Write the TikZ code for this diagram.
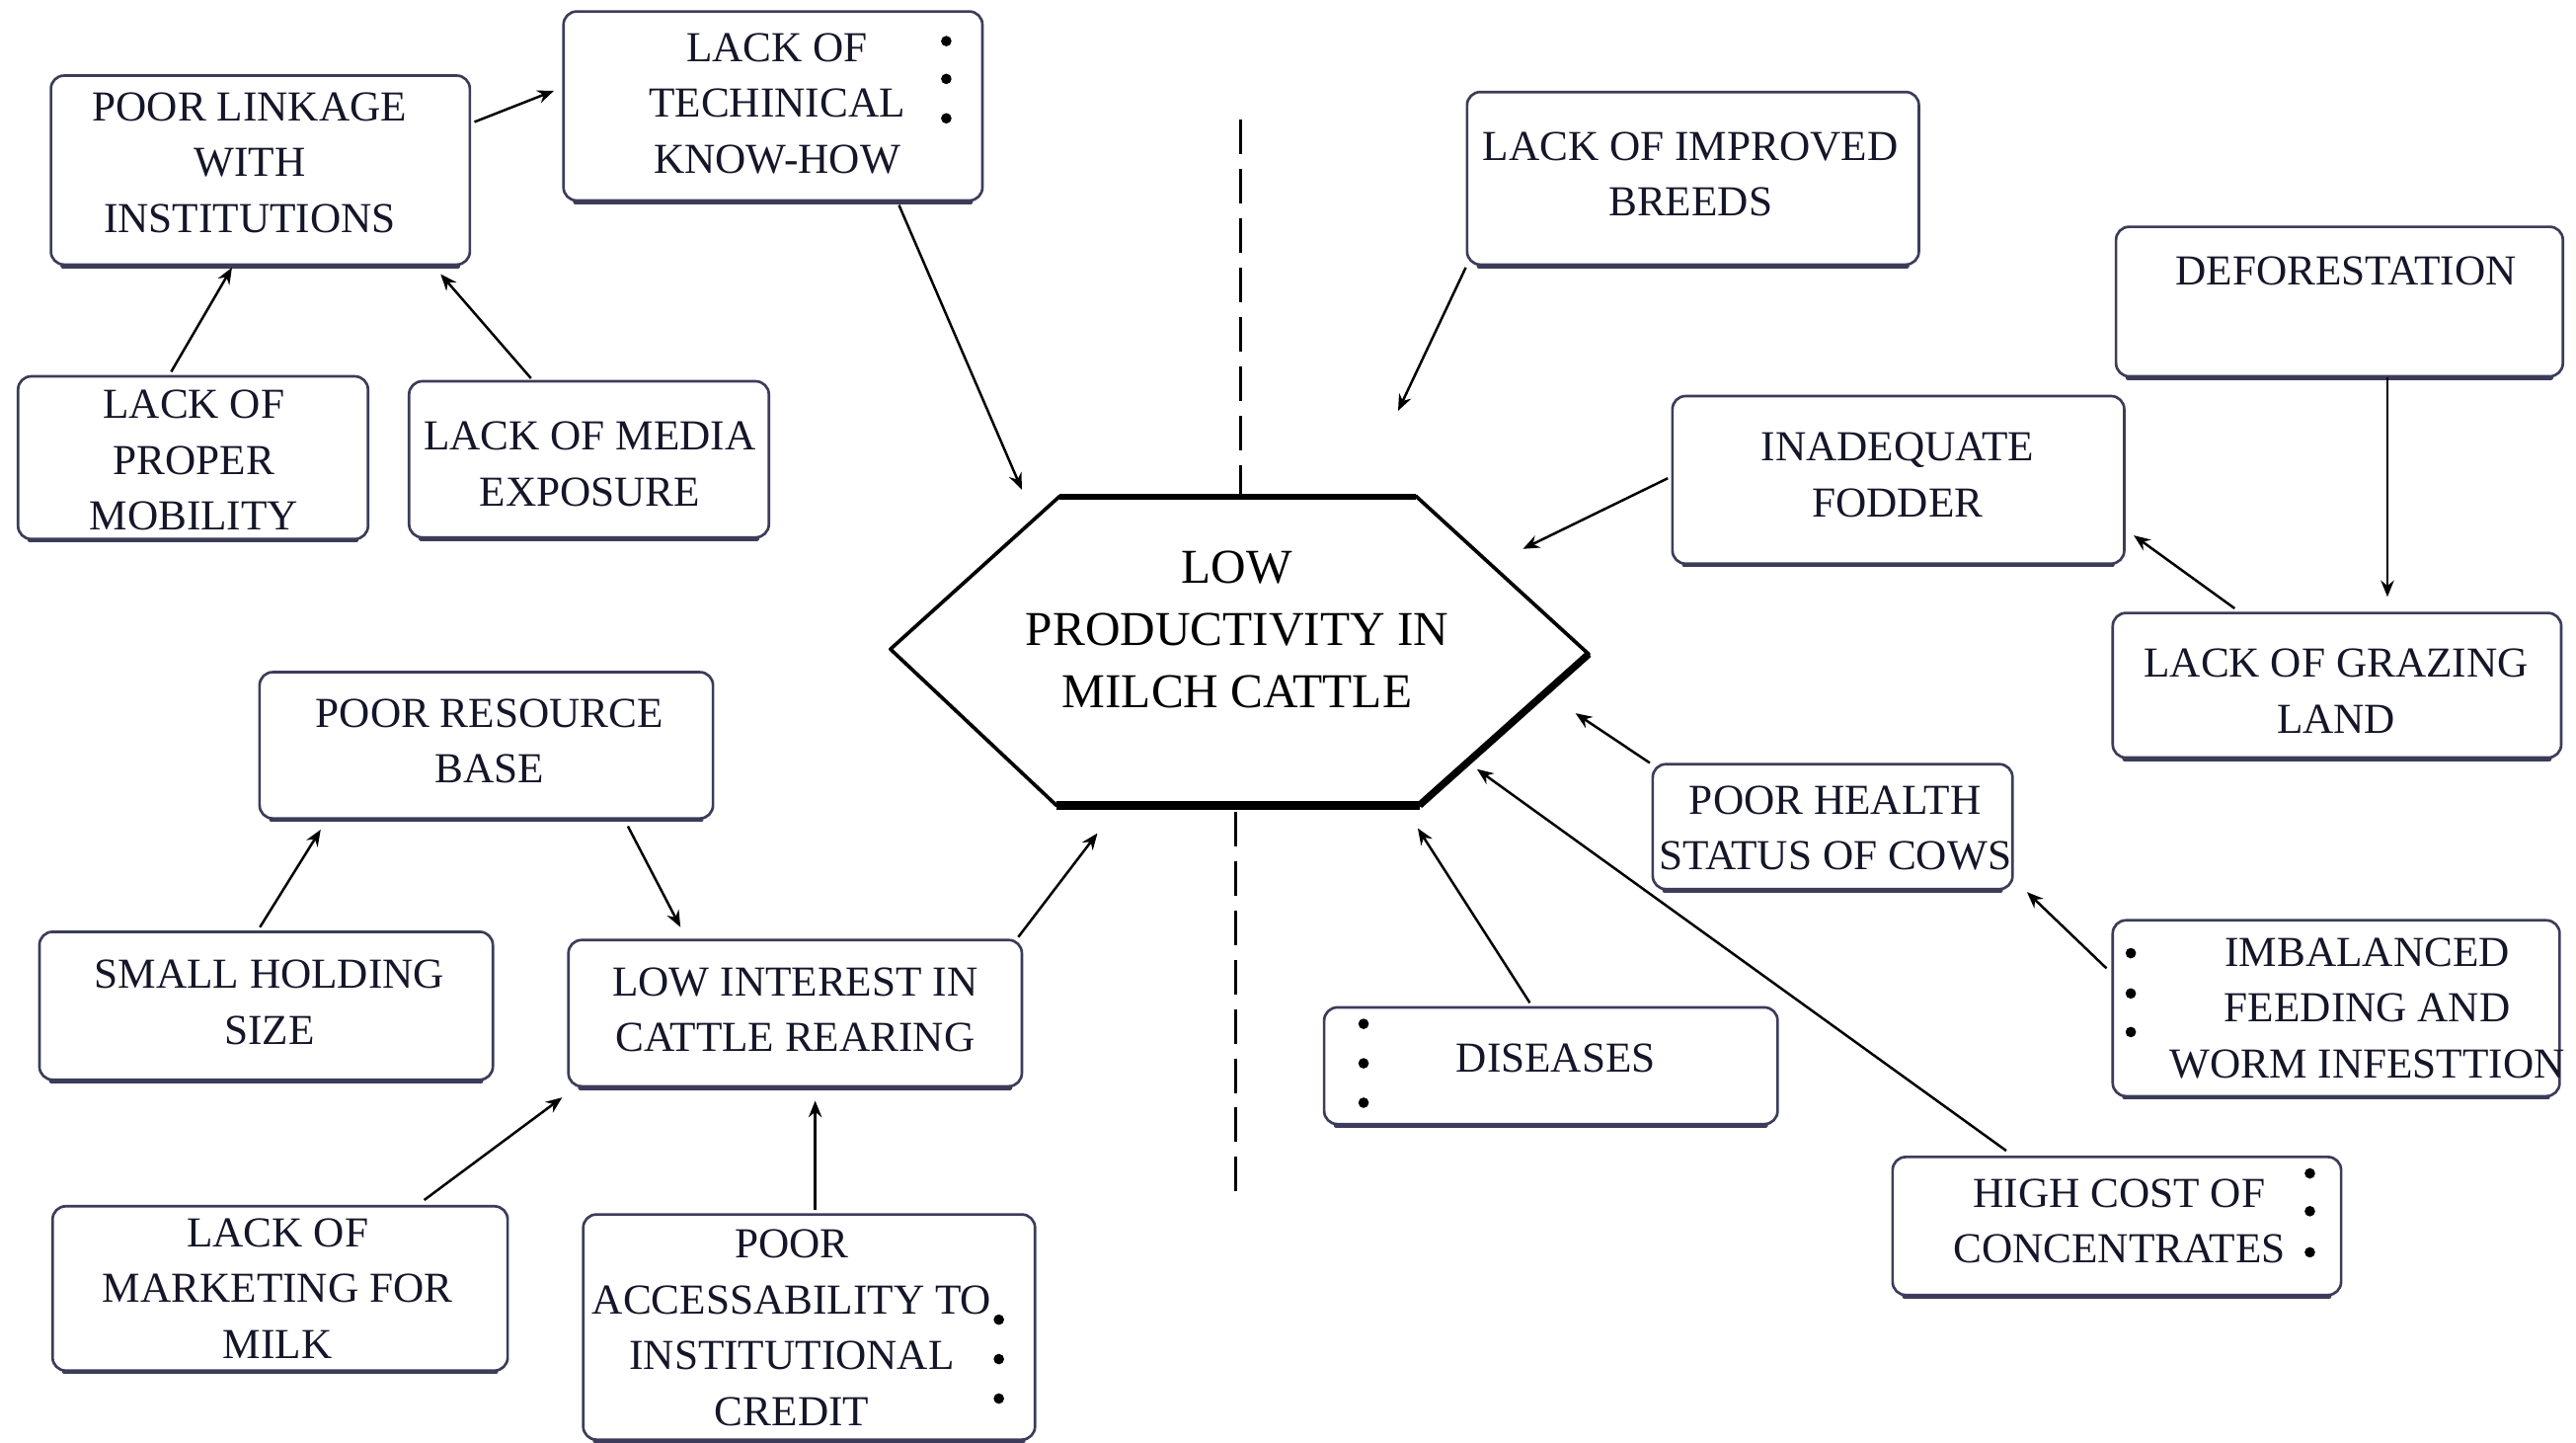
\documentclass[tikz,border=0pt]{standalone}
\usepackage{fontspec}
\setmainfont{Liberation Serif}
\usetikzlibrary{arrows.meta,calc,fit}
\definecolor{ink}{RGB}{22,22,42}
\definecolor{bxline}{RGB}{60,60,90}
\newcommand\mybox[5]{%
  \node[bx, fit={(#2,#3) (#4,#5)}] (#1) {};
  \draw[bxbot] ([xshift=4pt]#1.south west) -- ([xshift=-4pt]#1.south east);
}
\begin{document}
\begin{tikzpicture}[x=0.5pt,y=-0.5pt,
  bx/.style={draw=bxline, line width=0.8pt, rounded corners=4pt, inner sep=0pt, fill=white},
  bxbot/.style={draw=bxline, line width=1.4pt, line cap=round},
  tx/.style={font=\fontsize{13}{17}\selectfont, text=ink, align=center, inner sep=0pt},
  hx/.style={font=\fontsize{14.8}{19}\selectfont, text=black, align=center, inner sep=0pt},
  arr/.style={draw=black, line width=0.75pt, -{Stealth[length=5pt,width=4pt]}},
  dsh/.style={draw=black, line width=0.9pt, dash pattern=on 10.5pt off 4.5pt},
  bul/.style={fill=black}]
\useasboundingbox (0,0) rectangle (1568,878);
\fill[white] (0,0) rectangle (1568,878);

% boxes
\mybox{link}{31}{46}{286}{161}
\node[tx] (link-t) at (152,99) {POOR LINKAGE\\WITH\\INSTITUTIONS};
\mybox{tech}{343}{7}{598}{122}
\node[tx] (tech-t) at (473,63) {LACK OF\\TECHINICAL\\KNOW-HOW};
\mybox{mob}{11}{229}{224}{328}
\node[tx] (mob-t) at (118,280) {LACK OF\\PROPER\\MOBILITY};
\mybox{media}{249}{232}{468}{327}
\node[tx] (media-t) at (359,282.5) {LACK OF MEDIA\\EXPOSURE};
\mybox{breed}{893}{56}{1168}{161}
\node[tx] (breed-t) at (1029,106) {LACK OF IMPROVED\\BREEDS};
\mybox{defor}{1288}{138}{1560}{229}
\node[tx] (defor-t) at (1428,165) {DEFORESTATION};
\mybox{graz}{1286}{373}{1559}{461}
\node[tx] (graz-t) at (1422,420.5) {LACK OF GRAZING\\LAND};
\mybox{fod}{1018}{241}{1293}{343}
\node[tx] (fod-t) at (1155,289) {INADEQUATE\\FODDER};
\mybox{health}{1006}{465}{1225}{541}
\node[tx] (health-t) at (1117,504) {POOR HEALTH\\STATUS OF COWS};
\mybox{feed}{1286}{560}{1558}{667}
\node[tx] (feed-t) at (1441,613.5) {IMBALANCED\\FEEDING AND\\WORM INFESTTION};
\mybox{dis}{806}{613}{1082}{684}
\node[tx] (dis-t) at (947,644) {DISEASES};
\mybox{conc}{1152}{704}{1425}{788}
\node[tx] (conc-t) at (1290,743) {HIGH COST OF\\CONCENTRATES};
\mybox{res}{158}{409}{434}{498}
\node[tx] (res-t) at (298,451) {POOR RESOURCE\\BASE};
\mybox{small}{24}{567}{300}{657}
\node[tx] (small-t) at (164,610) {SMALL HOLDING\\SIZE};
\mybox{low}{346}{572}{622}{661}
\node[tx] (low-t) at (484,614.5) {LOW INTEREST IN\\CATTLE REARING};
\mybox{mkt}{32}{734}{309}{834}
\node[tx] (mkt-t) at (169,784) {LACK OF\\MARKETING FOR\\MILK};
\mybox{cred}{355}{739}{630}{876}
\node[tx] (cred-t) at (482,808) {POOR\\ACCESSABILITY TO\\INSTITUTIONAL\\CREDIT};

% bullets
\foreach \y in {25,48,72} \fill[bul] (576,\y) circle (1.6pt);
\foreach \y in {580,604.5,628} \fill[bul] (1297,\y) circle (1.6pt);
\foreach \y in {623,647,671} \fill[bul] (830,\y) circle (1.6pt);
\foreach \y in {714,737,762} \fill[bul] (1406,\y) circle (1.6pt);
\foreach \y in {803,827,851} \fill[bul] (608,\y) circle (1.6pt);

% hexagon
\coordinate (h1) at (645,302);
\coordinate (h2) at (862,302);
\coordinate (h3) at (967,398);
\coordinate (h4) at (864,490);
\coordinate (h5) at (643,490);
\coordinate (h6) at (542,395);
\draw[line width=1.1pt, line join=round] (h1)--(h2)--(h3)--(h4)--(h5)--(h6)--cycle;
\draw[line width=1.8pt] (h1)--(h2);
\draw[line width=2.2pt] (h3)--(h4);
\draw[line width=2.8pt] (h4)--(h5);
\node[hx] (hex) at (753,383) {LOW\\PRODUCTIVITY IN\\MILCH CATTLE};

% dashed axis
\coordinate (dt) at (755,73);
\coordinate (db) at (752,729);
\draw[dsh] (dt) -- (h1 -| dt);
\draw[dsh] (h5 -| db) ++(0,4) -- (db);

% arrows
\draw[arr] ($(mob.north west)+(94,-2)$) -- ($(link.south west)+(111,1)$);
\draw[arr] ($(media.north west)+(75,-1)$) -- ($(link.south west)+(238,5)$);
\draw[arr] ($(link.north east)+(2,29)$) -- ($(tech.north west)+(-5,49)$);
\draw[arr] ($(tech.south west)+(205,2)$) -- ($(hex)+(-131,-85)$);
\draw[arr] ($(breed.south west)+(0,1)$) -- ($(hex)+(98,-133)$);
\draw[arr] ($(fod.west)+(-2,-1)$) -- ($(hex)+(174,-49)$);
\draw[arr] ($(defor.south west)+(166,0)$) -- ($(graz.north west)+(168,-9)$);
\draw[arr] ($(graz.north west)+(75,-2)$) -- ($(fod.south east)+(5,-18)$);
\draw[arr] ($(health.north west)+(-1,0)$) -- ($(hex)+(206,51)$);
\draw[arr] ($(feed.north west)+(-3,30)$) -- ($(health.south east)+(8,1)$);
\draw[arr] ($(dis.north west)+(126,-2)$) -- ($(hex)+(110,121)$);
\draw[arr] ($(conc.north west)+(70,-3)$) -- ($(hex)+(146,85)$);
\draw[arr] ($(small.north west)+(135,-2)$) -- ($(res.south west)+(38,6)$);
\draw[arr] ($(res.south west)+(225,4)$) -- ($(low.north west)+(69,-7)$);
\draw[arr] ($(low.north east)+(-3,-1)$) -- ($(hex)+(-85,124)$);
\draw[arr] ($(mkt.north west)+(227,-3)$) -- ($(low.south west)+(-3,6)$);
\draw[arr] ($(cred.north west)+(142,-2)$) -- ($(low.south west)+(151,8)$);
\end{tikzpicture}
\end{document}
